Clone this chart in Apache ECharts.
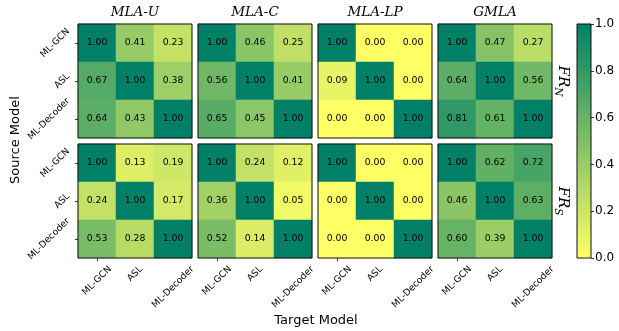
<!DOCTYPE html>
<html><head><meta charset="utf-8">
<script src="https://cdn.jsdelivr.net/npm/echarts@6/dist/echarts.min.js"></script>
<style>html,body{margin:0;padding:0;background:#fff}#c{width:619px;height:331px}</style>
</head><body><div id="c"></div>
<script>
// ---- data ----
const models = ['ML-GCN', 'ASL', 'ML-Decoder'];          // source (rows) & target (cols)
const methods = ['MLA-U', 'MLA-C', 'MLA-LP', 'GMLA'];
const metricSubs = ['N', 'S'];
const frN_MLAU  = [[1.00, 0.41, 0.23], [0.67, 1.00, 0.38], [0.64, 0.43, 1.00]];
const frN_MLAC  = [[1.00, 0.46, 0.25], [0.56, 1.00, 0.41], [0.65, 0.45, 1.00]];
const frN_MLALP = [[1.00, 0.00, 0.00], [0.09, 1.00, 0.00], [0.00, 0.00, 1.00]];
const frN_GMLA  = [[1.00, 0.47, 0.27], [0.64, 1.00, 0.56], [0.81, 0.61, 1.00]];
const frS_MLAU  = [[1.00, 0.13, 0.19], [0.24, 1.00, 0.17], [0.53, 0.28, 1.00]];
const frS_MLAC  = [[1.00, 0.24, 0.12], [0.36, 1.00, 0.05], [0.52, 0.14, 1.00]];
const frS_MLALP = [[1.00, 0.00, 0.00], [0.00, 1.00, 0.00], [0.00, 0.00, 1.00]];
const frS_GMLA  = [[1.00, 0.62, 0.72], [0.46, 1.00, 0.63], [0.60, 0.39, 1.00]];
const colorbarMin = 0, colorbarMax = 1, colorbarStep = 0.2;

// ---- layout / style ----
const LEFTS = [78, 198, 318, 438], TOPS = [24, 144], PW = 114, PH = 114;
const CB = {left: 577, top: 24, w: 14, h: 234};
const C_LOW = '#ffff66', C_HIGH = '#008066';
const SANS = 'DejaVu Sans', SERIF = 'DejaVu Serif';

const matrices = [[frN_MLAU, frN_MLAC, frN_MLALP, frN_GMLA], [frS_MLAU, frS_MLAC, frS_MLALP, frS_GMLA]];

const grids = [], xAxes = [], yAxes = [], series = [];
for (let r = 0; r < 2; r++) {
  for (let c = 0; c < 4; c++) {
    const g = grids.length;
    grids.push({left: LEFTS[c], top: TOPS[r], width: PW, height: PH, show: true, z: 10,
      backgroundColor: 'transparent', borderColor: '#111', borderWidth: 1});
    xAxes.push({type: 'category', gridIndex: g, data: models,
      axisLine: {show: false}, splitLine: {show: false}, axisLabel: {show: false},
      axisTick: {show: r === 1, alignWithLabel: true, length: 3, lineStyle: {color: '#000', width: 0.8}}});
    yAxes.push({type: 'category', gridIndex: g, data: models, inverse: true,
      axisLine: {show: false}, splitLine: {show: false}, axisLabel: {show: false},
      axisTick: {show: c === 0, alignWithLabel: true, length: 3, lineStyle: {color: '#000', width: 0.8}}});
    const m = matrices[r][c];
    const data = [];
    for (let i = 0; i < 3; i++) for (let j = 0; j < 3; j++) data.push([j, i, m[i][j]]);
    series.push({type: 'heatmap', xAxisIndex: g, yAxisIndex: g, data: data,
      itemStyle: {borderWidth: 0},
      label: {show: true, color: '#000', fontSize: 9.3, fontFamily: SANS,
        formatter: p => p.value[2].toFixed(2)},
      emphasis: {disabled: true}});
  }
}
// colorbar grid
grids.push({left: CB.left, top: CB.top, width: CB.w, height: CB.h, show: true, z: 10,
  backgroundColor: 'transparent', borderColor: '#111', borderWidth: 1});
xAxes.push({type: 'category', gridIndex: 8, data: ['cb'], show: false});
yAxes.push({type: 'value', gridIndex: 8, min: colorbarMin, max: colorbarMax, interval: colorbarStep,
  position: 'right', axisLine: {show: false}, splitLine: {show: false},
  axisTick: {show: true, length: 3, lineStyle: {color: '#000', width: 0.8}},
  axisLabel: {color: '#000', fontSize: 12, fontFamily: SANS, margin: 4, formatter: v => v.toFixed(1)}});
series.push({type: 'bar', xAxisIndex: 8, yAxisIndex: 8, data: [colorbarMax], barWidth: '100%',
  silent: true, itemStyle: {color: new echarts.graphic.LinearGradient(0, 0, 0, 1,
    [{offset: 0, color: C_HIGH}, {offset: 1, color: C_LOW}])}});

const chart = echarts.init(document.getElementById('c'), null, {renderer: 'canvas'});
chart.setOption({
  animation: false,
  backgroundColor: '#fff',
  grid: grids, xAxis: xAxes, yAxis: yAxes, series: series,
  visualMap: {show: false, min: colorbarMin, max: colorbarMax, seriesIndex: [0,1,2,3,4,5,6,7],
    inRange: {color: [C_LOW, C_HIGH]}}
});

// ---- text: tick labels, titles, axis names ----
const cv = document.createElement('canvas').getContext('2d');
function tw(t, font) { cv.font = font; return cv.measureText(t).width; }
const LFS = 9.2, LFONT = LFS + 'px "' + SANS + '"';
const K = Math.SQRT1_2 / 2;
const gfx = [];
for (let r = 0; r < 2; r++) {
  const g = r * 4;
  models.forEach((m, k) => {
    const py = chart.convertToPixel({gridIndex: g}, [0, k])[1];
    const w = tw(m, LFONT), h = LFS * 1.15;
    gfx.push({type: 'text', x: LEFTS[0] - 6 - (w + h) * K, y: py, rotation: Math.PI / 4,
      style: {text: m, font: LFONT, fill: '#000', align: 'center', verticalAlign: 'middle'}});
  });
}
for (let c = 0; c < 4; c++) {
  const g = 4 + c;
  models.forEach((m, k) => {
    const px = chart.convertToPixel({gridIndex: g}, [k, 0])[0];
    const w = tw(m, LFONT), h = LFS * 1.15;
    gfx.push({type: 'text', x: px, y: TOPS[1] + PH + 6 + (w + h) * K, rotation: Math.PI / 4,
      style: {text: m, font: LFONT, fill: '#000', align: 'center', verticalAlign: 'middle'}});
  });
  gfx.push({type: 'text', x: LEFTS[c] + PW / 2, y: 12,
    style: {text: methods[c], font: 'italic 13.5px "' + SERIF + '"', fill: '#000', align: 'center', verticalAlign: 'middle'}});
}
// FR_N / FR_S row labels
const FRFONT = 'italic 15px "' + SERIF + '"', SUBFONT = 'italic 10.5px "' + SERIF + '"';
metricSubs.forEach((s, r) => {
  const wa = tw('FR', FRFONT), wb = tw(s, SUBFONT), tot = wa + wb;
  gfx.push({type: 'group', x: 562, y: TOPS[r] + PH / 2, rotation: -Math.PI / 2, children: [
    {type: 'text', x: -tot / 2, y: -1, style: {text: 'FR', font: FRFONT, fill: '#000', align: 'left', verticalAlign: 'middle'}},
    {type: 'text', x: -tot / 2 + wa, y: 4.5, style: {text: s, font: SUBFONT, fill: '#000', align: 'left', verticalAlign: 'middle'}}
  ]});
});
gfx.push({type: 'text', x: 16, y: 140, rotation: Math.PI / 2,
  style: {text: 'Source Model', font: '13px "' + SANS + '"', fill: '#000', align: 'center', verticalAlign: 'middle'}});
gfx.push({type: 'text', x: 316, y: 321,
  style: {text: 'Target Model', font: '13px "' + SANS + '"', fill: '#000', align: 'center', verticalAlign: 'middle'}});
chart.setOption({graphic: gfx});
</script></body></html>
